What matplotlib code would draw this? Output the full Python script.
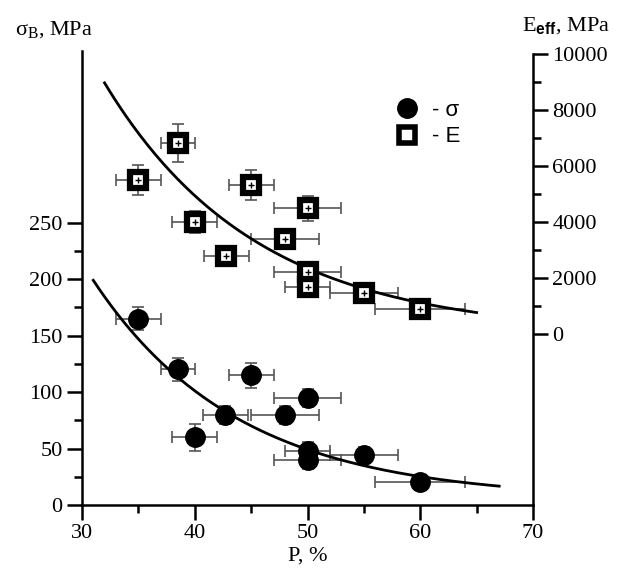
import numpy as np
import matplotlib
matplotlib.use("Agg")
import matplotlib.pyplot as plt
from matplotlib.lines import Line2D
from matplotlib.ticker import MultipleLocator, FixedLocator

plt.rcParams['font.family'] = ['Liberation Serif', 'DejaVu Serif']
plt.rcParams['mathtext.fontset'] = 'custom'
plt.rcParams['mathtext.rm'] = 'Liberation Serif'
plt.rcParams['mathtext.it'] = 'Liberation Serif:italic'
plt.rcParams['mathtext.bf'] = 'Liberation Sans:bold'

# strength sigma_B (MPa) vs porosity P (%)
p_sig = [35, 38.5, 45, 50, 42.7, 48, 40, 50, 50, 55, 60]
sig = [165, 120, 115, 95, 80, 80, 60, 48, 40, 44, 20]
p_sig_err = [2, 1.5, 2, 3, 2, 3, 2, 2, 3, 3, 4]
sig_err = [10, 10, 11, 8, 8, 8, 12, 8, 8, 7, 7]

# effective modulus E_eff (MPa) vs P (%)
p_e = [38.5, 35, 45, 50, 40, 48, 42.8, 50, 50, 55, 60]
e_eff = [6830, 5500, 5320, 4490, 3990, 3400, 2790, 2230, 1690, 1450, 880]
p_e_err = [1.5, 2, 2, 3, 2, 3, 2, 3, 2, 3, 4]
e_err = [680, 550, 530, 440, 400, 340, 280, 220, 170, 150, 90]

# fitted exponential decay curves
sig_fit = (2177.0, 0.078, 5.0)   # A, k, y0
sig_range = (31.0, 67.0)
e_fit = (97300.0, 0.0745, 0.0)
e_range = (32.0, 65.0)

fig = plt.figure(figsize=(6.18, 5.71), dpi=100)
ax = fig.add_axes([82/618, 66/571, 451/618, 454/571])
ax2 = ax.twinx()

ax.set_xlim(30, 70)
ax.set_ylim(0, 402)
ax2.set_ylim(-6107, 10107)

ecol = '#555555'
ax.errorbar(p_sig, sig, xerr=p_sig_err, yerr=sig_err, fmt='none',
            ecolor=ecol, elinewidth=1.2, capsize=4, capthick=1.2, zorder=2)
ax.plot(p_sig, sig, 'o', ms=14, color='black', zorder=3)
ax2.errorbar(p_e, e_eff, xerr=p_e_err, yerr=e_err, fmt='none',
             ecolor=ecol, elinewidth=1.2, capsize=4, capthick=1.2, zorder=2)
ax2.plot(p_e, e_eff, 's', ms=12, mfc='white', mec='black', mew=4.5, zorder=3)
ax2.plot(p_e, e_eff, '+', ms=5, mew=1, color='black', zorder=4)

xs = np.linspace(*sig_range, 200)
ax.plot(xs, sig_fit[0]*np.exp(-sig_fit[1]*xs) + sig_fit[2], color='black', lw=2, zorder=2.5)
xe = np.linspace(*e_range, 200)
ax2.plot(xe, e_fit[0]*np.exp(-e_fit[1]*xe) + e_fit[2], color='black', lw=2, zorder=2.5)

# ticks
ax.xaxis.set_major_locator(MultipleLocator(10))
ax.xaxis.set_minor_locator(MultipleLocator(5))
ax.yaxis.set_major_locator(FixedLocator([0, 50, 100, 150, 200, 250]))
ax.yaxis.set_minor_locator(FixedLocator([25, 75, 125, 175, 225]))
ax2.yaxis.set_major_locator(FixedLocator([0, 2000, 4000, 6000, 8000, 10000]))
ax2.yaxis.set_minor_locator(FixedLocator([1000, 3000, 5000, 7000, 9000]))

for a in (ax, ax2):
    a.tick_params(which='major', direction='out', length=11, width=1.8, labelsize=16, pad=3)
    a.tick_params(which='minor', direction='out', length=6, width=1.8)
    for s in a.spines.values():
        s.set_linewidth(1.8)

ax.spines['top'].set_visible(False)
ax.spines['right'].set_visible(False)
ax2.spines['top'].set_visible(False)
ax2.spines['left'].set_visible(False)
ax2.spines['bottom'].set_visible(False)
ax2.spines['right'].set_bounds(-6107, 10000)

ax.set_xlabel('P, %', fontsize=16, labelpad=2)
fig.text(15/618, 1 - 30/571, 'σ$_{\\rm B}$, MPa', fontsize=16, ha='left', va='center')
fig.text(522/618, 1 - 26/571, 'E$_{\\mathbf{eff}}$, MPa', fontsize=16, ha='left', va='center')

handles = [Line2D([], [], ls='none', marker='o', ms=14, color='black'),
           Line2D([], [], ls='none', marker='s', ms=12, mfc='white', mec='black', mew=4)]
ax.legend(handles, ['- σ', '- E'], loc='upper left', bbox_to_anchor=(0.652, 0.912),
          frameon=False, prop={'family': 'Liberation Sans', 'size': 16},
          handletextpad=0.1, labelspacing=0.25, borderaxespad=0)

fig.savefig('out.png', dpi=100)
